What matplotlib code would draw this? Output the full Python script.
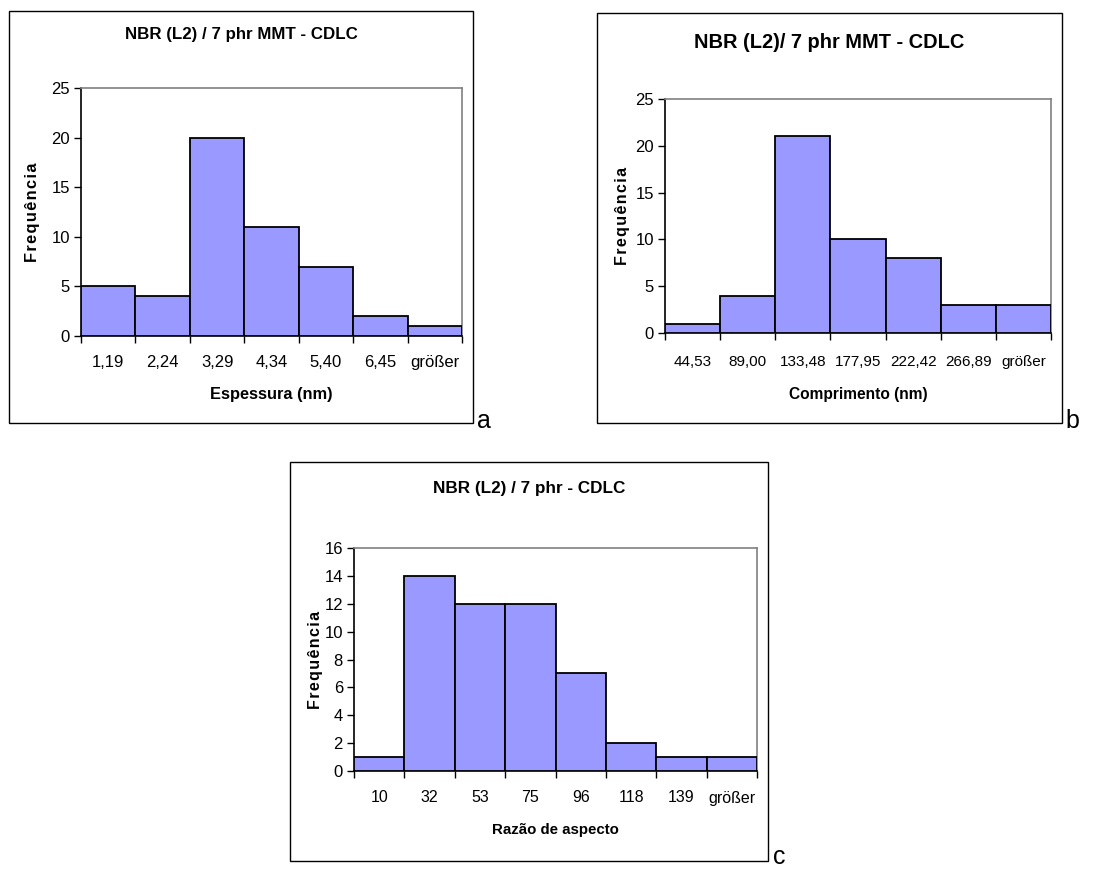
import matplotlib
matplotlib.use("Agg")
import matplotlib.pyplot as plt
from matplotlib.patches import Rectangle
from matplotlib import font_manager

plt.rcParams['font.family'] = ['Liberation Sans', 'DejaVu Sans']

names = {f.name for f in font_manager.fontManager.ttflist}
NARROW = 'Liberation Sans Narrow' if 'Liberation Sans Narrow' in names else 'Liberation Sans'

W, H = 1105, 869

# ---- data ----
a_labels = ["1,19", "2,24", "3,29", "4,34", "5,40", "6,45", "größer"]
a_freq = [5, 4, 20, 11, 7, 2, 1]
b_labels = ["44,53", "89,00", "133,48", "177,95", "222,42", "266,89", "größer"]
b_freq = [1, 4, 21, 10, 8, 3, 3]
c_labels = ["10", "32", "53", "75", "96", "118", "139", "größer"]
c_freq = [1, 14, 12, 12, 7, 2, 1, 1]

titles = ["NBR (L2) / 7 phr MMT - CDLC", "NBR (L2)/ 7 phr MMT - CDLC", "NBR (L2) / 7 phr - CDLC"]
xlabels = ["Espessura (nm)", "Comprimento (nm)", "Razão de aspecto"]
ylabel = "Frequência"

BAR = "#9999FF"

fig = plt.figure(figsize=(W / 100, H / 100), dpi=100)


def fbox(x0, y0, x1, y1):
    return [x0 / W, 1 - y1 / H, (x1 - x0) / W, (y1 - y0) / H]


def spaced(s):
    return "\u200a".join(s)


def panel(frame, plot, labels, freq, ymax, ystep, title, xlabel, letter, letter_xy,
          title_size, tick_size, label_size, title_y, tick_y, xlab_y, ylab_x,
          fam, lab_fam, ylab_size, ytick_size):
    fx0, fy0, fx1, fy1 = frame
    px0, py0, px1, py1 = plot
    fig.patches.append(Rectangle((fx0 / W, 1 - fy1 / H), (fx1 - fx0) / W, (fy1 - fy0) / H,
                                 transform=fig.transFigure, fill=False, edgecolor="black",
                                 linewidth=1.0))
    ax = fig.add_axes(fbox(*plot))
    n = len(freq)
    ax.bar(range(n), freq, width=1.0, align="edge", color=BAR, edgecolor="black",
           linewidth=1.3, zorder=3)
    ax.set_xlim(0, n)
    ax.set_ylim(0, ymax)
    ax.set_yticks(range(0, ymax + 1, ystep))
    ax.tick_params(axis="y", length=5, width=1, direction="out", pad=3)
    for t in ax.get_yticklabels():
        t.set_fontsize(ytick_size)
        t.set_family(fam)
    ax.set_xticks(range(n + 1))
    ax.set_xticklabels([])
    ax.tick_params(axis="x", which="major", length=5, width=1, direction="out")
    for i, lab in enumerate(labels):
        ax.text(i + 0.5, 1 - (tick_y - py0) / (py1 - py0), lab,
                transform=ax.get_xaxis_transform(), ha="center", va="center",
                fontsize=tick_size, family=[fam, 'DejaVu Sans'])
    for s in ["top", "right"]:
        ax.spines[s].set_color("#808080")
        ax.spines[s].set_linewidth(1.2)
    for s in ["left", "bottom"]:
        ax.spines[s].set_color("black")
        ax.spines[s].set_linewidth(1.2)
    ax.text(0.5, 1 - (xlab_y - py0) / (py1 - py0), xlabel, transform=ax.transAxes,
            ha="center", va="center", fontsize=label_size, fontweight="bold",
            family=[lab_fam, 'DejaVu Sans'])
    ax.text((ylab_x - px0) / (px1 - px0), 0.5, spaced(ylabel), transform=ax.transAxes,
            ha="center", va="center", rotation=90, fontsize=ylab_size, fontweight="bold",
            family=['Liberation Sans', 'DejaVu Sans'])
    fig.text(((fx0 + fx1) / 2) / W, 1 - title_y / H, title, ha="center", va="center",
             fontsize=title_size, fontweight="bold", family=[lab_fam, 'DejaVu Sans'])
    fig.text(letter_xy[0] / W, 1 - letter_xy[1] / H, letter, ha="left", va="baseline",
             fontsize=18)
    return ax


panel((9, 11, 473, 423), (81, 88, 462, 336), a_labels, a_freq, 25, 5,
      titles[0], xlabels[0], "a", (477, 428), 12.2, 12, 11.8, 35, 363, 395, 33,
      'Liberation Sans', 'Liberation Sans', 11.8, 12)
panel((597, 13, 1062, 423), (665, 99, 1051, 333), b_labels, b_freq, 25, 5,
      titles[1], xlabels[1], "b", (1065, 428), 14.4, 11, 11.2, 42, 362, 395, 622,
      NARROW, NARROW, 11.5, 12)
panel((290, 462, 768, 861), (354, 548, 757, 771), c_labels, c_freq, 16, 2,
      titles[2], xlabels[2], "c", (773, 864), 12.3, 11.5, 10.8, 488, 798, 830, 315,
      NARROW, NARROW, 11.5, 12)

fig.savefig("out.png", dpi=100)
